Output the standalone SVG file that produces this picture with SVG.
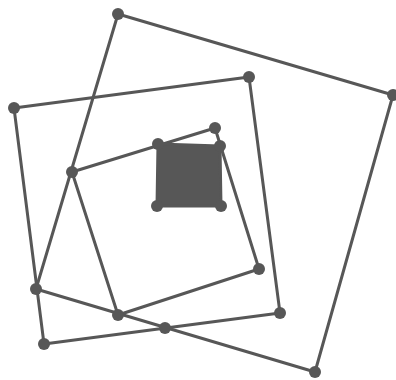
<svg xmlns="http://www.w3.org/2000/svg" width="396" height="380" viewBox="0 0 396 380">
<style>
.e{fill:none;stroke:#575757;stroke-width:3;stroke-linejoin:round}
.n{fill:#575757}
</style>
<rect width="396" height="380" fill="#fff"/>
<g id="connectors">
<polygon class="e" points="118,14 393,95 315,372 36,289"/>
<polygon class="e" points="14,108 249,77 280,313 44,344"/>
<polygon class="e" points="72,172 215,128 259,269 118,315"/>
</g>
<g id="inner-square">
<polygon points="158,144 220,146 221,206 157,206" fill="#575757" stroke="#575757" stroke-width="3" stroke-linejoin="round"/>
</g>
<g id="n1"><circle class="n" cx="118" cy="14" r="6"/></g>
<g id="n2"><circle class="n" cx="393" cy="95" r="6"/></g>
<g id="n3"><circle class="n" cx="315" cy="372" r="6"/></g>
<g id="n4"><circle class="n" cx="36" cy="289" r="6"/></g>
<g id="n5"><circle class="n" cx="14" cy="108" r="6"/></g>
<g id="n6"><circle class="n" cx="249" cy="77" r="6"/></g>
<g id="n7"><circle class="n" cx="280" cy="313" r="6"/></g>
<g id="n8"><circle class="n" cx="44" cy="344" r="6"/></g>
<g id="n9"><circle class="n" cx="72" cy="172" r="6"/></g>
<g id="n10"><circle class="n" cx="215" cy="128" r="6"/></g>
<g id="n11"><circle class="n" cx="259" cy="269" r="6"/></g>
<g id="n12"><circle class="n" cx="118" cy="315" r="6"/></g>
<g id="n13"><circle class="n" cx="165" cy="328" r="6"/></g>
<g id="n14"><circle class="n" cx="158" cy="144" r="6"/></g>
<g id="n15"><circle class="n" cx="220" cy="146" r="6"/></g>
<g id="n16"><circle class="n" cx="221" cy="206" r="6"/></g>
<g id="n17"><circle class="n" cx="157" cy="206" r="6"/></g>
</svg>
